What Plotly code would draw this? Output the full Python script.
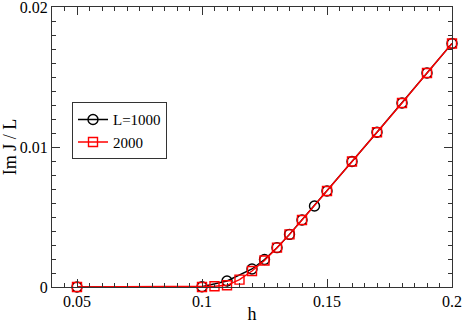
import plotly.graph_objects as go

h_1000 = [0.05, 0.10, 0.11, 0.12, 0.125, 0.13, 0.135, 0.14, 0.145, 0.15, 0.16, 0.17, 0.18, 0.19, 0.20]
im_1000 = [0.0, 0.00002, 0.00043, 0.00129, 0.00196, 0.00281, 0.00376, 0.00479, 0.00579, 0.00686,
           0.00896, 0.01105, 0.01314, 0.01529, 0.01739]

h_2000 = [0.05, 0.10, 0.105, 0.11, 0.115, 0.12, 0.125, 0.13, 0.135, 0.14, 0.15, 0.16, 0.17, 0.18, 0.19, 0.20]
im_2000 = [0.0, 0.0, 0.00005, 0.00012, 0.00053, 0.00114, 0.00189, 0.00281, 0.00376, 0.00479, 0.00686,
           0.00896, 0.01105, 0.01314, 0.01529, 0.01739]

x_ticks = [0.05, 0.1, 0.15, 0.2]
x_labels = ["0.05", "0.1", "0.15", "0.2"]
y_ticks = [0, 0.01, 0.02]
y_labels = ["0", "0.01", "0.02"]

serif = "Liberation Serif, Times New Roman, serif"

fig = go.Figure()
fig.add_trace(go.Scatter(
    x=h_1000, y=im_1000, mode="lines+markers", name="L=1000",
    line=dict(color="black", width=1.4),
    marker=dict(symbol="circle-open", size=10, color="black", line=dict(width=1.4)),
    cliponaxis=False,
))
fig.add_trace(go.Scatter(
    x=h_2000, y=im_2000, mode="lines+markers", name="2000",
    line=dict(color="#ff0000", width=1.4),
    marker=dict(symbol="square-open", size=9, color="#ff0000", line=dict(width=1.4)),
    cliponaxis=False,
))

axis_common = dict(
    showgrid=False, zeroline=False, showline=True, linecolor="#333333", linewidth=1.3,
    mirror="ticks", ticks="inside", ticklen=8, tickwidth=1.2, tickcolor="#333333",
    tickfont=dict(family=serif, size=16, color="black"), automargin=False,
    ticklabeloverflow="allow",
)

fig.update_xaxes(
    range=[0.04, 0.2000001], tickvals=x_ticks, ticktext=x_labels,
    title=dict(text="h", font=dict(family=serif, size=18, color="black"), standoff=0),
    minor=dict(dtick=0.005, ticks="inside", ticklen=4, tickwidth=1, tickcolor="#333333", showgrid=False),
    **axis_common,
)
fig.update_yaxes(
    range=[0, 0.0200001], tickvals=y_ticks, ticktext=y_labels,
    title=dict(text="Im J / L", font=dict(family=serif, size=18, color="black"), standoff=2),
    minor=dict(dtick=0.001, ticks="inside", ticklen=4, tickwidth=1, tickcolor="#333333", showgrid=False),
    **axis_common,
)

fig.update_layout(
    width=463, height=324,
    margin=dict(l=52, r=11, t=7, b=37),
    paper_bgcolor="white", plot_bgcolor="white",
    showlegend=True,
    font=dict(family=serif),
    legend=dict(
        x=0.05, y=0.66, xanchor="left", yanchor="top",
        bgcolor="white", bordercolor="#333333", borderwidth=1,
        font=dict(family=serif, size=15, color="black"),
        itemwidth=30, tracegroupgap=0,
    ),
)

fig.write_html("out.html", config={"displayModeBar": False},
               post_script="document.body.style.margin='0';document.body.style.padding='0';")
